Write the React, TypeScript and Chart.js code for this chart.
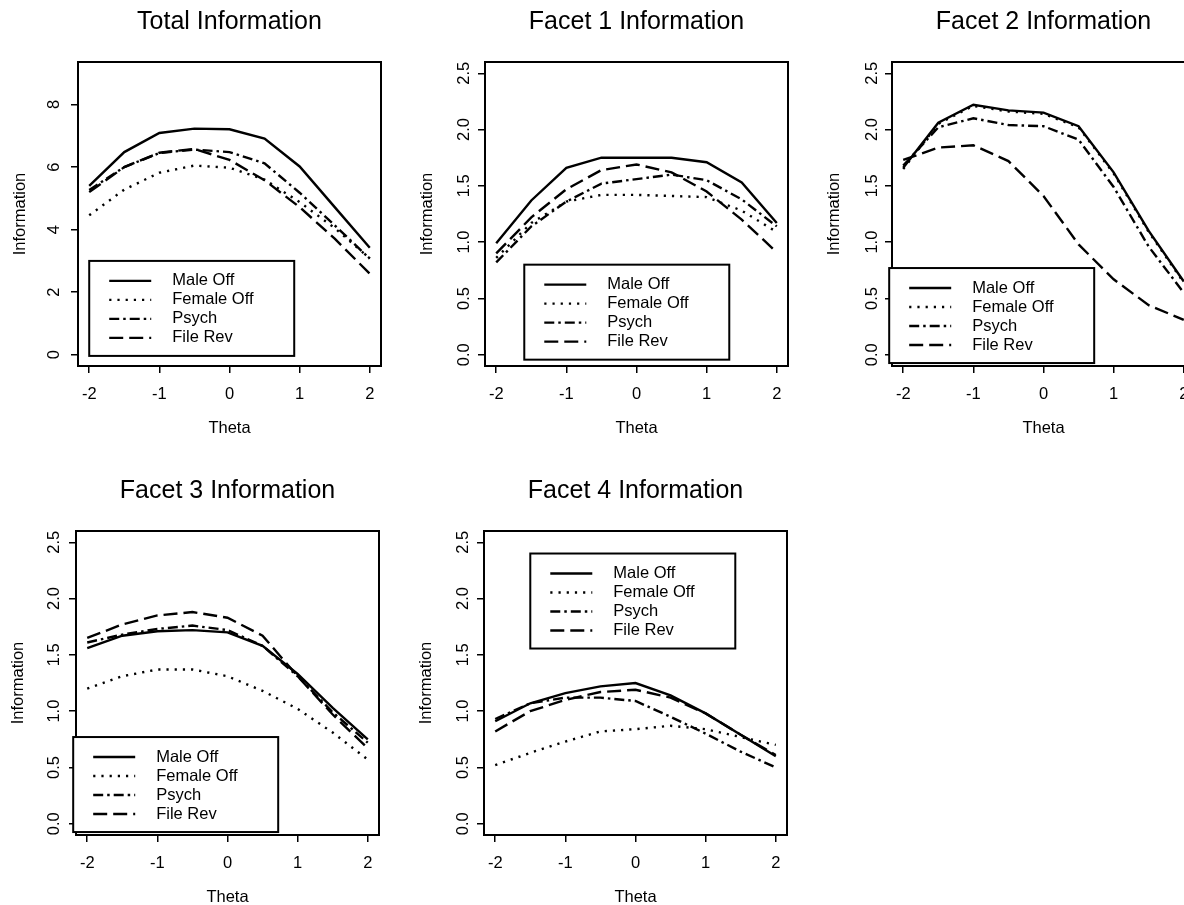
import React, { useEffect, useRef } from "react";
import { Chart, registerables } from "chart.js";

Chart.register(...registerables);

// ---------- data ----------
const theta = [-2, -1.5, -1, -0.5, 0, 0.5, 1, 1.5, 2];
const seriesNames = ["Male Off", "Female Off", "Psych", "File Rev"];
const xTicks = [-2, -1, 0, 1, 2];
const yTicksTotal = [0, 2, 4, 6, 8];
const yTicksFacet = [0, 0.5, 1, 1.5, 2, 2.5];
const panelTitles = [
  "Total Information",
  "Facet 1 Information",
  "Facet 2 Information",
  "Facet 3 Information",
  "Facet 4 Information",
];
const xTitle = "Theta";
const yTitle = "Information";

const totalMale = [5.4, 6.48, 7.09, 7.23, 7.21, 6.91, 6.02, 4.72, 3.42];
const totalFemale = [4.46, 5.28, 5.82, 6.05, 5.98, 5.6, 4.88, 4.05, 3.08];
const totalPsych = [5.27, 6.0, 6.45, 6.56, 6.48, 6.12, 5.18, 4.14, 3.07];
const totalFile = [5.2, 6.0, 6.46, 6.58, 6.23, 5.58, 4.72, 3.71, 2.59];

const f1Male = [0.99, 1.37, 1.66, 1.75, 1.75, 1.75, 1.71, 1.53, 1.17];
const f1Female = [0.86, 1.17, 1.36, 1.42, 1.42, 1.41, 1.4, 1.28, 1.09];
const f1Psych = [0.82, 1.14, 1.36, 1.52, 1.56, 1.6, 1.55, 1.38, 1.14];
const f1File = [0.9, 1.22, 1.47, 1.64, 1.69, 1.62, 1.45, 1.2, 0.91];

const f2Male = [1.66, 2.06, 2.22, 2.17, 2.15, 2.03, 1.62, 1.1, 0.65];
const f2Female = [1.65, 2.05, 2.21, 2.16, 2.14, 2.02, 1.61, 1.09, 0.64];
const f2Psych = [1.68, 2.02, 2.1, 2.04, 2.03, 1.91, 1.49, 0.96, 0.55];
const f2File = [1.73, 1.84, 1.86, 1.72, 1.41, 0.98, 0.67, 0.44, 0.31];

const f3Male = [1.56, 1.67, 1.71, 1.72, 1.7, 1.58, 1.33, 1.03, 0.75];
const f3Female = [1.2, 1.31, 1.37, 1.37, 1.31, 1.18, 1.02, 0.81, 0.57];
const f3Psych = [1.61, 1.68, 1.73, 1.76, 1.72, 1.58, 1.31, 0.99, 0.72];
const f3File = [1.65, 1.77, 1.85, 1.88, 1.83, 1.67, 1.31, 0.97, 0.67];

const f4Male = [0.91, 1.07, 1.16, 1.22, 1.25, 1.14, 0.98, 0.79, 0.6];
const f4Female = [0.52, 0.63, 0.73, 0.82, 0.84, 0.87, 0.84, 0.77, 0.7];
const f4Psych = [0.93, 1.07, 1.12, 1.12, 1.09, 0.95, 0.8, 0.64, 0.5];
const f4File = [0.82, 1.0, 1.1, 1.17, 1.19, 1.12, 0.98, 0.79, 0.61];

// ---------- styles / layout ----------
const FONT = "'Liberation Sans', Arial, Helvetica, sans-serif";
const Y_AXIS_W = 78;
const TITLE_H = 62;
const X_AXIS_H = 74;
const BOX_W = 303;
const BOX_H = 304;
const RIGHT_PAD = 12;
const CW = Y_AXIS_W + BOX_W + RIGHT_PAD;
const CH = TITLE_H + BOX_H + X_AXIS_H;

const lineStyles = [
  { borderDash: [] as number[] },
  { borderDash: [2.2, 6] },
  { borderDash: [10, 4, 2.5, 4] },
  { borderDash: [14, 6] },
];

type PanelCfg = {
  title: string;
  series: number[][];
  yTicks: number[];
  yMin: number;
  yMax: number;
  decimals: number;
  boxLeft: number;
  boxTop: number;
  legendAt: [number, number];
  yTickPad: number;
};

const panels: PanelCfg[] = [
  {
    title: panelTitles[0],
    series: [totalMale, totalFemale, totalPsych, totalFile],
    yTicks: yTicksTotal,
    yMin: -0.36,
    yMax: 9.36,
    decimals: 0,
    boxLeft: 78,
    boxTop: 62,
    legendAt: [-2.0, 3.0],
    yTickPad: 11.5,
  },
  {
    title: panelTitles[1],
    series: [f1Male, f1Female, f1Psych, f1File],
    yTicks: yTicksFacet,
    yMin: -0.1,
    yMax: 2.6,
    decimals: 1,
    boxLeft: 485,
    boxTop: 62,
    legendAt: [-1.6, 0.8],
    yTickPad: 2,
  },
  {
    title: panelTitles[2],
    series: [f2Male, f2Female, f2Psych, f2File],
    yTicks: yTicksFacet,
    yMin: -0.1,
    yMax: 2.6,
    decimals: 1,
    boxLeft: 892,
    boxTop: 62,
    legendAt: [-2.2, 0.77],
    yTickPad: 1.5,
  },
  {
    title: panelTitles[3],
    series: [f3Male, f3Female, f3Psych, f3File],
    yTicks: yTicksFacet,
    yMin: -0.1,
    yMax: 2.6,
    decimals: 1,
    boxLeft: 76,
    boxTop: 531,
    legendAt: [-2.2, 0.77],
    yTickPad: 3,
  },
  {
    title: panelTitles[4],
    series: [f4Male, f4Female, f4Psych, f4File],
    yTicks: yTicksFacet,
    yMin: -0.1,
    yMax: 2.6,
    decimals: 1,
    boxLeft: 483.5,
    boxTop: 531,
    legendAt: [-1.5, 2.4],
    yTickPad: 2,
  },
];

// ---------- plugins ----------
const framePlugin = {
  id: "frame",
  afterDatasetsDraw(chart: any) {
    const { ctx, chartArea: a } = chart;
    ctx.save();
    ctx.lineWidth = 2;
    ctx.strokeStyle = "#000";
    ctx.strokeRect(a.left, a.top, a.right - a.left, a.bottom - a.top);
    ctx.restore();
  },
};

const rLegendPlugin = {
  id: "rLegend",
  afterDraw(chart: any, _args: any, opts: any) {
    if (!opts || !opts.anchor) return;
    const { ctx } = chart;
    const x0 = chart.scales.x.getPixelForValue(opts.anchor[0]);
    const y0 = chart.scales.y.getPixelForValue(opts.anchor[1]);
    const w = 205;
    const h = 95;
    ctx.save();
    ctx.fillStyle = "#fff";
    ctx.fillRect(x0, y0, w, h);
    ctx.lineWidth = 2;
    ctx.strokeStyle = "#000";
    ctx.strokeRect(x0, y0, w, h);
    ctx.font = `16.5px ${FONT}`;
    ctx.textBaseline = "middle";
    ctx.textAlign = "left";
    chart.data.datasets.forEach((ds: any, i: number) => {
      const y = y0 + 20 + i * 19;
      ctx.setLineDash(ds.borderDash || []);
      ctx.lineWidth = ds.borderWidth;
      ctx.strokeStyle = "#000";
      ctx.beginPath();
      ctx.moveTo(x0 + 20, y);
      ctx.lineTo(x0 + 62, y);
      ctx.stroke();
      ctx.setLineDash([]);
      ctx.fillStyle = "#000";
      ctx.fillText(ds.label, x0 + 83, y);
    });
    ctx.restore();
  },
};

function Panel({ cfg }: { cfg: PanelCfg }) {
  const ref = useRef<HTMLCanvasElement | null>(null);
  useEffect(() => {
    if (!ref.current) return;
    const chart = new Chart(ref.current, {
      type: "line",
      data: {
        datasets: cfg.series.map((vals, i) => ({
          label: seriesNames[i],
          data: theta.map((t, j) => ({ x: t, y: vals[j] })),
          borderColor: "#000",
          borderWidth: 2.4,
          borderDash: lineStyles[i].borderDash,
          pointRadius: 0,
          tension: 0,
          fill: false,
        })),
      },
      options: {
        responsive: false,
        animation: false,
        events: [],
        layout: { padding: { top: 0, left: 0, right: RIGHT_PAD, bottom: 0 } },
        scales: {
          x: {
            type: "linear",
            min: -2.16,
            max: 2.16,
            afterBuildTicks: (scale: any) => {
              scale.ticks = xTicks.map((v) => ({ value: v }));
            },
            afterFit: (scale: any) => {
              scale.height = X_AXIS_H;
            },
            border: { display: false },
            grid: {
              display: true,
              drawOnChartArea: false,
              drawTicks: true,
              tickLength: 7,
              color: "#000",
              lineWidth: 1.5,
            },
            ticks: {
              color: "#000",
              font: { family: FONT, size: 16.5 },
              padding: 12,
              maxRotation: 0,
              minRotation: 0,
              callback: (v: any) => String(v),
            },
            title: {
              display: true,
              text: xTitle,
              color: "#000",
              font: { family: FONT, size: 16.5 },
              padding: { top: 0, bottom: 2 },
            },
          },
          y: {
            type: "linear",
            min: cfg.yMin,
            max: cfg.yMax,
            afterBuildTicks: (scale: any) => {
              scale.ticks = cfg.yTicks.map((v) => ({ value: v }));
            },
            afterFit: (scale: any) => {
              scale.width = Y_AXIS_W;
            },
            border: { display: false },
            grid: {
              display: true,
              drawOnChartArea: false,
              drawTicks: true,
              tickLength: 7,
              color: "#000",
              lineWidth: 1.5,
            },
            ticks: {
              color: "#000",
              font: { family: FONT, size: 16.5 },
              padding: cfg.yTickPad,
              minRotation: 90,
              maxRotation: 90,
              crossAlign: "center",
              callback: (v: any) => Number(v).toFixed(cfg.decimals),
            },
            title: {
              display: true,
              text: yTitle,
              color: "#000",
              font: { family: FONT, size: 16.5 },
              padding: { top: 11, bottom: 0 },
            },
          },
        },
        plugins: {
          legend: { display: false },
          tooltip: { enabled: false },
          title: {
            display: true,
            text: cfg.title,
            color: "#000",
            fullSize: false,
            font: { family: FONT, size: 25, weight: "normal" },
            padding: { top: 7, bottom: 25 },
          },
          rLegend: { anchor: cfg.legendAt },
        } as any,
      },
      plugins: [framePlugin, rLegendPlugin],
    } as any);
    return () => chart.destroy();
  }, [cfg]);
  return (
    <canvas
      ref={ref}
      width={CW}
      height={CH}
      style={{
        position: "absolute",
        left: cfg.boxLeft - Y_AXIS_W,
        top: cfg.boxTop - TITLE_H,
        width: CW,
        height: CH,
      }}
    />
  );
}

export default function App() {
  return (
    <div
      style={{
        position: "fixed",
        left: 0,
        top: 0,
        width: 1184,
        height: 905,
        overflow: "hidden",
        background: "#fff",
      }}
    >
      {panels.map((p, i) => (
        <Panel key={i} cfg={p} />
      ))}
    </div>
  );
}
